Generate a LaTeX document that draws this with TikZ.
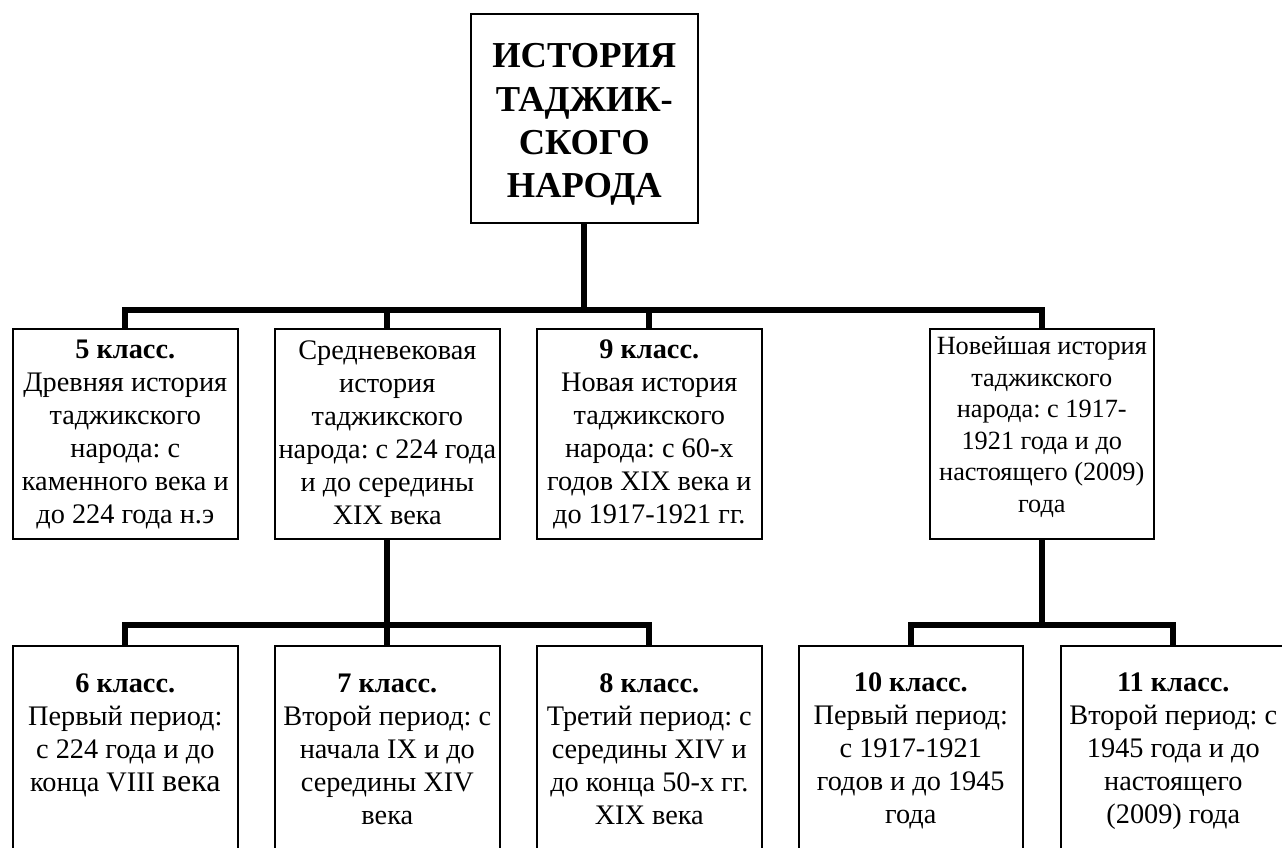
\documentclass[tikz,border=0pt]{standalone}
\usepackage{fontspec}
\setmainfont{Liberation Serif}
\frenchspacing
\tikzset{
  conn/.style={line width=6pt, line join=miter},
  boxnode/.style={draw, line width=1.6pt, inner sep=0pt, anchor=north west},
}
\newcommand{\bxt}[5]{\parbox[t][#2][t]{#1}{\centering\frenchspacing\fontsize{#5}{33}\selectfont\rule{0pt}{#3}#4}}
\newcommand{\bxs}[5]{\parbox[t][#2][t]{#1}{\centering\frenchspacing\fontsize{#5}{31.5}\selectfont\rule{0pt}{#3}#4}}
\begin{document}
\begin{tikzpicture}[x=1pt,y=-1pt]
\useasboundingbox (0,0) rectangle (1282,848);
\fill[white] (0,0) rectangle (1282,848);
\clip (0,0) rectangle (1282,848);

% top
\node[boxnode] (top) at (470,13) {\parbox[t][209pt][t]{227pt}{\centering\fontsize{36.5}{43.3}\selectfont\bfseries\rule{0pt}{54pt}ИСТОРИЯ\\ТАДЖИК-\\СКОГО\\НАРОДА}};

% level 1
\node[boxnode] (b1) at (12,328) {\bxt{225pt}{210pt}{30pt}{\textbf{5 класс.}\\Древняя история\\таджикского\\народа: с\\каменного века и\\до 224 года н.э}{28.3}};
\node[boxnode] (b2) at (274,328) {\bxt{225pt}{210pt}{31pt}{Средневековая\\история\\таджикского\\народа: с 224 года\\и до середины\\XIX века}{28.3}};
\node[boxnode] (b9) at (536,328) {\bxt{225pt}{210pt}{30pt}{\textbf{9 класс.}\\Новая история\\таджикского\\народа: с 60-х\\годов XIX века и\\до 1917-1921 гг.}{28.3}};
\node[boxnode] (b4) at (929,328) {\bxs{224pt}{210pt}{26pt}{Новейшая история\\таджикского\\народа: с 1917-\\1921 года и до\\настоящего (2009)\\года}{26.3}};

% level 2
\node[boxnode] (b6) at (12,645) {\bxt{225pt}{240pt}{47pt}{\textbf{6 класс.}\\Первый период:\\с 224 года и до\\конца VIII {\fontsize{32}{33}\selectfont века}}{28.3}};
\node[boxnode] (b7) at (274,645) {\bxt{225pt}{240pt}{47pt}{\textbf{7 класс.}\\Второй период: с\\начала IX и до\\середины XIV\\века}{28.3}};
\node[boxnode] (b8) at (536,645) {\bxt{225pt}{240pt}{47pt}{\textbf{8 класс.}\\Третий период: с\\середины XIV и\\до конца 50-х гг.\\XIX века}{28.3}};
\node[boxnode] (b10) at (798,645) {\bxt{224pt}{240pt}{46pt}{\textbf{10 класс.}\\Первый период:\\с 1917-1921\\годов и до 1945\\года}{28.3}};
\node[boxnode] (b11) at (1060,645) {\bxt{225pt}{240pt}{46pt}{\textbf{11 класс.}\\Второй период: с\\1945 года и до\\настоящего\\(2009) года}{28.3}};

% junctions
\coordinate (j1) at (583,310);
\coordinate (j2) at (387,625);
\coordinate (j3) at (1041,625);

% connectors
\draw[conn] (top.south) -- (top.south |- j1);
\draw[conn] (b1.north) -- (b1.north |- j1) -- (b4.north |- j1) -- (b4.north);
\draw[conn] (b2.north) -- (b2.north |- j1);
\draw[conn] (b9.north) -- (b9.north |- j1);
\draw[conn] (b2.south) -- (b2.south |- j2);
\draw[conn] (b6.north) -- (b6.north |- j2) -- (b8.north |- j2) -- (b8.north);
\draw[conn] (b7.north) -- (b7.north |- j2);
\draw[conn] (b4.south) -- (b4.south |- j3);
\draw[conn] (b10.north) -- (b10.north |- j3) -- (b11.north |- j3) -- (b11.north);
\end{tikzpicture}
\end{document}
